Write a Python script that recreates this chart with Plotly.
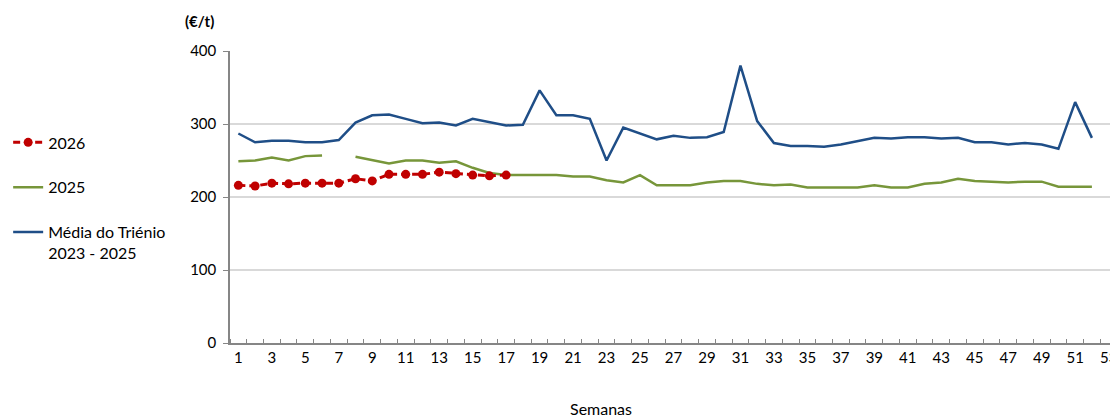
import plotly.graph_objects as go

# semanas 1..52
weeks = list(range(1, 53))

# Média do Triénio 2023 - 2025 (€/t)
media_trienio = [287, 275, 277, 277, 275, 275, 278, 302, 312, 313,
                 307, 301, 302, 298, 307, 302, 298, 299, 346, 312,
                 312, 307, 250, 295, 287, 279, 284, 281, 282, 289,
                 380, 304, 274, 270, 270, 269, 272, 277, 281, 280,
                 282, 282, 280, 281, 275, 275, 272, 274, 272, 266,
                 330, 281]

# 2025 (sem valor na semana 7)
y2025 = [249, 250, 254, 250, 256, 257, None, 255, 250, 246,
         250, 250, 247, 249, 240, 233, 230, 230, 231, 230,
         228, 228, 223, 220, 230, 216, 216, 216, 220, 222,
         222, 218, 216, 217, 213, 213, 214, 213, 216, 213,
         213, 218, 220, 225, 222, 221, 220, 221, 221, 214,
         214, 214]

# 2026 (até à semana 17)
weeks_2026 = list(range(1, 18))
y2026 = [216, 215, 219, 218, 219, 219, 219, 225, 222, 231,
         231, 231, 234, 232, 230, 229, 230]

tick_weeks = list(range(1, 54, 2))
tick_text = [str(w) for w in tick_weeks]

FONT = "Lato"
TXT = "#000000"
AXIS = "#868686"

fig = go.Figure()

fig.add_trace(go.Scatter(
    x=weeks, y=media_trienio, name="Média do Triénio<br>2023 - 2025",
    mode="lines", line=dict(color="#1F4E87", width=2.5),
    legendrank=3, legendgroup="m"))

fig.add_trace(go.Scatter(
    x=weeks, y=y2025, name="2025", mode="lines",
    line=dict(color="#77963A", width=2.5), connectgaps=False,
    legendrank=2, legendgroup="b"))

fig.add_trace(go.Scatter(
    x=weeks_2026, y=y2026, name="2026", mode="lines+markers",
    line=dict(color="#C00000", width=3, dash="7px,4px"),
    marker=dict(color="#C00000", size=9),
    legendrank=1, legendgroup="a"))

fig.add_annotation(text="<b>(€/t)</b>", xref="paper", yref="paper",
                   x=-0.034, y=1.103, xanchor="center", yanchor="middle",
                   showarrow=False,
                   font=dict(family=FONT, size=15, color=TXT))
fig.add_annotation(text="Semanas", xref="paper", yref="paper",
                   x=0.418, y=-0.226, xanchor="center", yanchor="middle",
                   showarrow=False,
                   font=dict(family=FONT, size=16, color=TXT))

# page body adds 8px, so the figure is 8px smaller and margins shifted
# legend kept inside the figure (otherwise plotly pushes the left margin)
fig.update_layout(
    width=1110, height=411,
    margin=dict(l=221, r=1, t=43, b=76),
    plot_bgcolor="white", paper_bgcolor="white",
    font=dict(family=FONT, size=15, color=TXT),
    showlegend=True,
    legend=dict(x=-0.2487, y=0.745, xanchor="left", yanchor="top",
                tracegroupgap=21, valign="top",
                font=dict(family=FONT, size=16, color=TXT),
                bgcolor="rgba(0,0,0,0)", itemwidth=30),
    xaxis=dict(range=[0.5, 53.5], tickmode="array", tickvals=tick_weeks,
               ticktext=tick_text, ticks="", showgrid=False, zeroline=False,
               showline=True, linecolor=AXIS, linewidth=1.5,
               tickfont=dict(size=15),
               minor=dict(tickmode="linear", tick0=0.5, dtick=1,
                          ticks="inside", ticklen=4, tickcolor=AXIS,
                          showgrid=False)),
    yaxis=dict(range=[0, 400], tickvals=[0, 100, 200, 300, 400],
               showgrid=True, gridcolor="#D9D9D9", gridwidth=1.5,
               zeroline=False, showline=True, linecolor=AXIS,
               linewidth=1.5, ticks="outside", ticklen=5,
               tickcolor=AXIS, tickfont=dict(size=15),
               ticklabelstandoff=4),
)

fig.write_html("out.html")
